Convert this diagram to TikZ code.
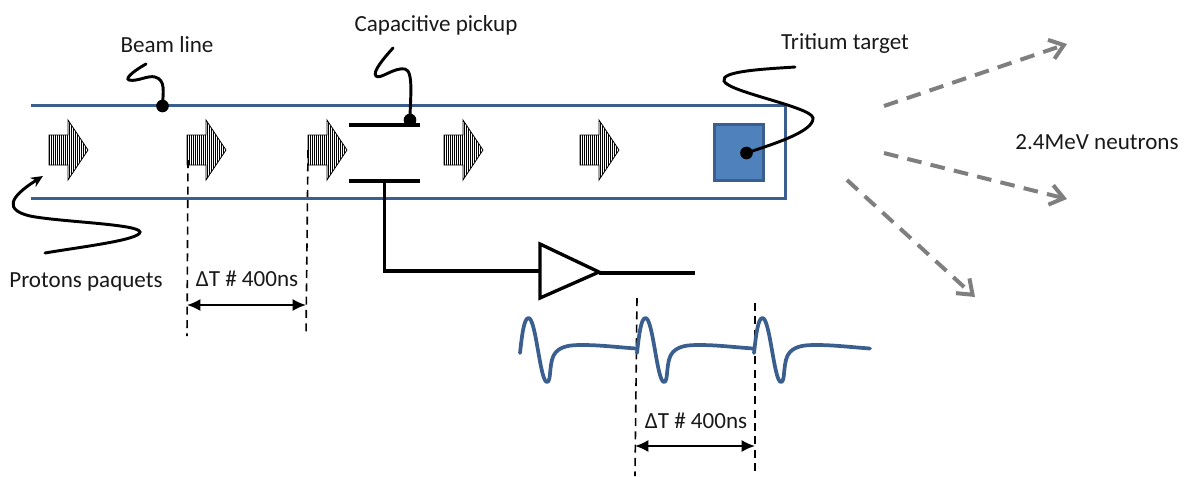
\documentclass[tikz,border=0pt]{standalone}
\usepackage{fontspec}
\setmainfont{Carlito}
\usetikzlibrary{arrows.meta}
\definecolor{beamblue}{HTML}{3A5F8F}
\definecolor{targetblue}{HTML}{4F81BD}
\definecolor{neutrongray}{HTML}{7F7F7F}
\tikzset{
  lbl/.style={font=\fontsize{17.3}{20}\selectfont, text=black!90, inner sep=0pt},
  beamline/.style={draw=beamblue, line width=2.8pt},
  wire/.style={draw=black, line width=2.3pt, line join=miter},
  squiggle/.style={draw=black, line width=2.2pt, line cap=round},
  dotnode/.style={circle, fill=black, inner sep=0pt, minimum size=9.5pt},
  guide/.style={draw=black, line width=1.2pt, dash pattern=on 6pt off 4pt},
  span/.style={draw=black, line width=1.4pt, {Latex[length=10pt,width=9pt]}-{Latex[length=10pt,width=9pt]}},
  neutron/.style={draw=neutrongray, line width=3pt, dash pattern=on 11pt off 7pt, -{Straight Barb[length=10pt,width=15pt,line width=3pt]}},
  wave/.style={draw=beamblue, line width=2.8pt, line cap=round, line join=round},
  pk/.pic={
    \begin{scope}
      \clip (0,-15) -- (19,-15) -- (19,-30) -- (39,0) -- (19,30) -- (19,15) -- (0,15) -- cycle;
      \foreach \i in {0,...,20} {\draw[black, line width=0.55pt] (\i*2,-31) -- (\i*2,31);}
    \end{scope}
    \draw[black, line width=0.6pt, line join=miter] (0,-15) -- (19,-15) -- (19,-30) -- (39,0) -- (19,30) -- (19,15) -- (0,15) -- cycle;
  }
}
\begin{document}
\begin{tikzpicture}[x=0.75pt, y=-0.75pt]
\useasboundingbox (0,0) rectangle (1189,476);
% guides first (lie under the beam pipe)
\coordinate (g1t) at (188,160); \coordinate (g1b) at (187,336);
\coordinate (g2t) at (308,150); \coordinate (g2b) at (306,336);
\coordinate (g3t) at (637,298); \coordinate (g3b) at (635,476);
\coordinate (g4t) at (755,303); \coordinate (g4b) at (755,476);
\draw[guide] (g1t) -- (g1b);
\draw[guide] (g2t) -- (g2b);
\draw[guide] (g3t) -- (g3b);
\draw[guide] (g4t) -- (g4b);
% beam pipe
\coordinate (bt0) at (31,105.5); \coordinate (bc1) at (785.5,105.5);
\coordinate (bc2) at (785.5,198.5); \coordinate (bb0) at (31,198.5);
\draw[beamline, line join=miter] (bt0) -- (bc1) -- (bc2) -- (bb0);
% target
\node[draw=beamblue, fill=targetblue, line width=2.4pt, minimum width=37pt, minimum height=41.5pt, inner sep=0pt, anchor=center] (target) at (739,152.5) {};
% packets
\foreach \x/\n in {49/a,187/b,308/c,444/d,580/e} { \pic (pk\n) at (\x,150) {pk}; }
% pickup plates
\coordinate (pt1) at (349,125); \coordinate (pt2) at (420,125);
\coordinate (pb1) at (349,181); \coordinate (pb2) at (420,181);
\coordinate (pw) at (384.5,181); \coordinate (pw2) at (384.5,271);
\draw[wire] (pt1) -- (pt2);
\draw[wire] (pb1) -- (pb2);
% amplifier
\coordinate (a1) at (540,244); \coordinate (a2) at (599,272); \coordinate (a3) at (540,298);
\coordinate (ain) at (540,271); \coordinate (aout) at (695,273); \coordinate (aout0) at (599,273);
\draw[wire] (pw) -- (pw2) -- (ain);
\draw[wire, line width=2.5pt] (a1) -- (a2) -- (a3) -- cycle;
\draw[wire] (aout0) -- (aout);
% dots
\node[dotnode] (dbeam) at (162.5,106) {};
\node[dotnode] (dpick) at (410,120) {};
\node[dotnode] (dtarget) at (746.5,153) {};
% squiggles
\coordinate (sb) at (146,64);
\coordinate (sp) at (393,48);
\coordinate (st) at (795,67);
\coordinate (sq) at (45,253);
\coordinate (sqe) at (43,176);
\draw[squiggle] (sb) .. controls (137,69) and (124,78) .. (129,80) .. controls (137,82) and (148,75) .. (155,77) .. controls (166,80) and (163,92) .. (dbeam.center);
\draw[squiggle] (sp) .. controls (384,58) and (372,72) .. (376,76) .. controls (380,80) and (394,67) .. (405,69) .. controls (414,71) and (410,100) .. (dpick.center);
\draw[squiggle] (st) .. controls (765,69) and (720,71) .. (724,81) .. controls (728,92) and (812,107) .. (813,118) .. controls (814,132) and (770,145) .. (dtarget.center);
\draw[squiggle, -{Stealth[length=9pt,width=8pt]}] (sq) .. controls (80,247) and (140,240) .. (140,232) .. controls (139,224) and (60,222) .. (30,216) .. controls (5,210) and (8,198) .. (sqe);
% spans
\draw[span] (g1b |- 0,305) coordinate (s1) -- (g2b |- 0,305) coordinate (s2);
\draw[span] (g3b |- 0,446) coordinate (s3) -- (g4b |- 0,446) coordinate (s4);
% waveforms
\foreach \d in {0,117,234} {
  \begin{scope}[xshift=\d*0.75pt]
    \draw[wave] (520,353) .. controls (522,335) and (524,318) .. (528.5,318) .. controls (536,318) and (540,382) .. (547,382) .. controls (552,382) and (548,360) .. (556,352) .. controls (562,346) and (570,345) .. (582,345) .. controls (600,345) and (615,347) .. (636,348.5);
  \end{scope}
}
% neutrons
\coordinate (n1s) at (884,106); \coordinate (n1e) at (1067,44);
\coordinate (n2s) at (884,153); \coordinate (n2e) at (1067,199);
\coordinate (n3s) at (847,180); \coordinate (n3e) at (975,297);
\draw[neutron] (n1s) -- (n1e);
\draw[neutron] (n2s) -- (n2e);
\draw[neutron] (n3s) -- (n3e);
% labels
\node[lbl] (lbeam) at (167,45) {Beam line};
\node[lbl] (lpick) at (436,25) {Capacitive pickup};
\node[lbl] (ltarget) at (845,44) {Tritium target};
\node[lbl] (lneut) at (1097,142) {2.4MeV neutrons};
\node[lbl] (lprot) at (86,282) {Protons paquets};
\node[lbl] (ld1) at (247,279) {ΔT \# 400ns};
\node[lbl] (ld2) at (696,421) {ΔT \# 400ns};
\end{tikzpicture}
\end{document}
